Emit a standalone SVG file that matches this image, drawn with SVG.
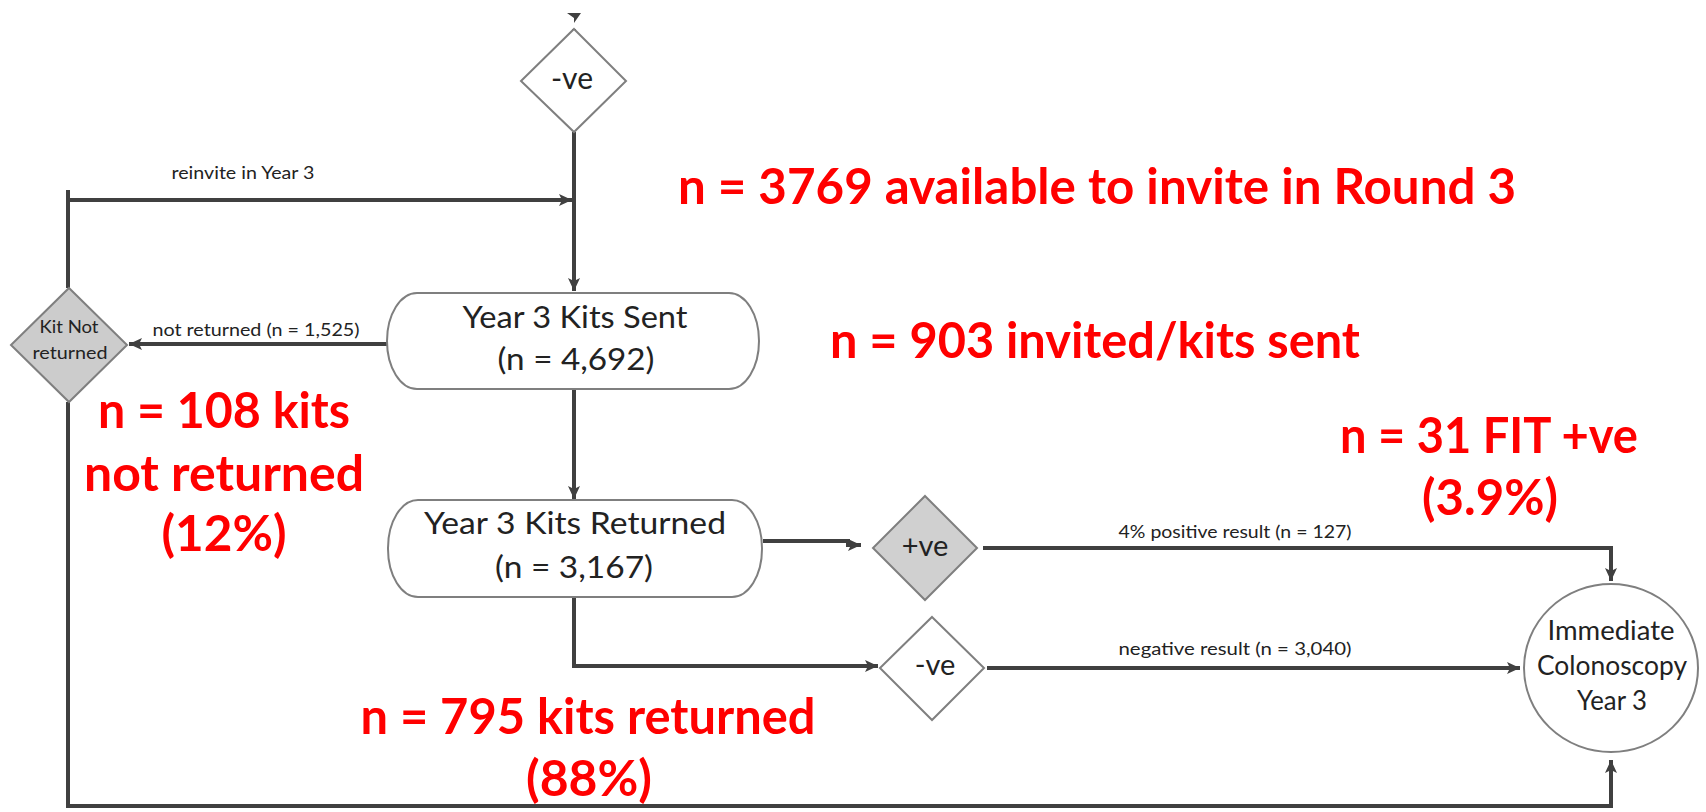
<svg xmlns="http://www.w3.org/2000/svg" width="1706" height="812" viewBox="0 0 1706 812">
<style>
.ln{fill:none;stroke:#404040;stroke-width:4}
.dm{stroke:#7f7f7f;stroke-width:2}
.bx{fill:#fff;stroke:#7f7f7f;stroke-width:2}
.t{font-family:Lato,"Liberation Sans",sans-serif;fill:#222;text-anchor:middle}
.lb{font-size:17px}
.nt{font-size:30px}
.red{font-family:Lato,"Liberation Sans",sans-serif;font-weight:bold;fill:#ff0000;font-size:49px;text-anchor:middle}
</style>
<defs>
<marker id="ah" markerUnits="userSpaceOnUse" markerWidth="14" markerHeight="14" viewBox="0 0 14 14" refX="13" refY="7" orient="auto">
<path d="M0,1 L13,7 L0,13 L3,7 z" fill="#404040"/>
</marker>
</defs>
<rect width="1706" height="812" fill="#fff"/>

<g id="connectors">
<polygon points="567,13 581,13 574,23 574,18" fill="#404040"/>
<line class="ln" x1="574" y1="29" x2="574" y2="47"/>
<path class="ln" d="M574,132 V291" marker-end="url(#ah)"/>
<path class="ln" d="M68,200 H572" marker-end="url(#ah)"/>
<path class="ln" d="M68,190 V288"/>
<path class="ln" d="M390,344 H129" marker-end="url(#ah)"/>
<path class="ln" d="M68,402 V806 H1611 V760" marker-end="url(#ah)"/>
<path class="ln" d="M574,389 V499" marker-end="url(#ah)"/>
<path class="ln" d="M763,541 H848 V545 H861" marker-end="url(#ah)"/>
<path class="ln" d="M983,548 H1611 V581" marker-end="url(#ah)"/>
<path class="ln" d="M574,597 V666 H878" marker-end="url(#ah)"/>
<path class="ln" d="M987,668 H1520" marker-end="url(#ah)"/>
<text class="t lb" x="243" y="179" textLength="143" lengthAdjust="spacingAndGlyphs">reinvite in Year 3</text>
<text class="t lb" x="256" y="336" textLength="207" lengthAdjust="spacingAndGlyphs">not returned (n = 1,525)</text>
<text class="t lb" x="1235" y="538" textLength="233" lengthAdjust="spacingAndGlyphs">4% positive result (n = 127)</text>
<text class="t lb" x="1235" y="655" textLength="233" lengthAdjust="spacingAndGlyphs">negative result (n = 3,040)</text>
</g>

<g id="node-top-neg">
<polygon class="dm" fill="#fff" points="574,29 626,81 574,132 521,81"/>
<text class="t" x="572" y="89" font-size="30">-ve</text>
</g>

<g id="node-kit-not-returned">
<polygon class="dm" fill="#cccccc" points="69,288 127,345 69,402 11,345"/>
<text class="t" x="69" y="333" font-size="18" textLength="59" lengthAdjust="spacingAndGlyphs">Kit Not</text>
<text class="t" x="70" y="359" font-size="18" textLength="75" lengthAdjust="spacingAndGlyphs">returned</text>
</g>

<g id="node-kits-sent">
<rect class="bx" x="387" y="293" width="372" height="96" rx="30" ry="48"/>
<text class="t nt" x="575" y="328" textLength="225" lengthAdjust="spacingAndGlyphs">Year 3 Kits Sent</text>
<text class="t nt" x="576" y="370" textLength="157" lengthAdjust="spacingAndGlyphs">(n = 4,692)</text>
</g>

<g id="node-kits-returned">
<rect class="bx" x="388" y="500" width="374" height="97" rx="30" ry="48"/>
<text class="t nt" x="575" y="534" textLength="302" lengthAdjust="spacingAndGlyphs">Year 3 Kits Returned</text>
<text class="t nt" x="574" y="578" textLength="158" lengthAdjust="spacingAndGlyphs">(n = 3,167)</text>
</g>

<g id="node-pos">
<polygon class="dm" fill="#d0d0d0" points="925,496 977,548 925,600 873,548"/>
<text class="t" x="925" y="556" font-size="29">+ve</text>
</g>

<g id="node-neg">
<polygon class="dm" fill="#fff" points="932,617 984,668 932,720 880,668"/>
<text class="t" x="935" y="675" font-size="29">-ve</text>
</g>

<g id="node-colonoscopy">
<ellipse class="bx" cx="1611" cy="668" rx="87" ry="84"/>
<text class="t" x="1611" y="640" font-size="26" textLength="127" lengthAdjust="spacingAndGlyphs">Immediate</text>
<text class="t" x="1612" y="675" font-size="26" textLength="150" lengthAdjust="spacingAndGlyphs">Colonoscopy</text>
<text class="t" x="1612" y="710" font-size="26" textLength="70" lengthAdjust="spacingAndGlyphs">Year 3</text>
</g>

<g id="annotations">
<text class="red" x="1097" y="204" textLength="838" lengthAdjust="spacingAndGlyphs">n = 3769 available to invite in Round 3</text>
<text class="red" x="1095" y="358" textLength="530" lengthAdjust="spacingAndGlyphs">n = 903 invited/kits sent</text>
<text class="red" x="224" y="428" textLength="252" lengthAdjust="spacingAndGlyphs">n = 108 kits</text>
<text class="red" x="224" y="491" textLength="280" lengthAdjust="spacingAndGlyphs">not returned</text>
<text class="red" x="224" y="551" textLength="125" lengthAdjust="spacingAndGlyphs">(12%)</text>
<text class="red" x="1489" y="453" textLength="298" lengthAdjust="spacingAndGlyphs">n = 31 FIT +ve</text>
<text class="red" x="1490" y="515" textLength="136" lengthAdjust="spacingAndGlyphs">(3.9%)</text>
<text class="red" x="588" y="734" textLength="455" lengthAdjust="spacingAndGlyphs">n = 795 kits returned</text>
<text class="red" x="589" y="796" textLength="126" lengthAdjust="spacingAndGlyphs">(88%)</text>
</g>
</svg>
